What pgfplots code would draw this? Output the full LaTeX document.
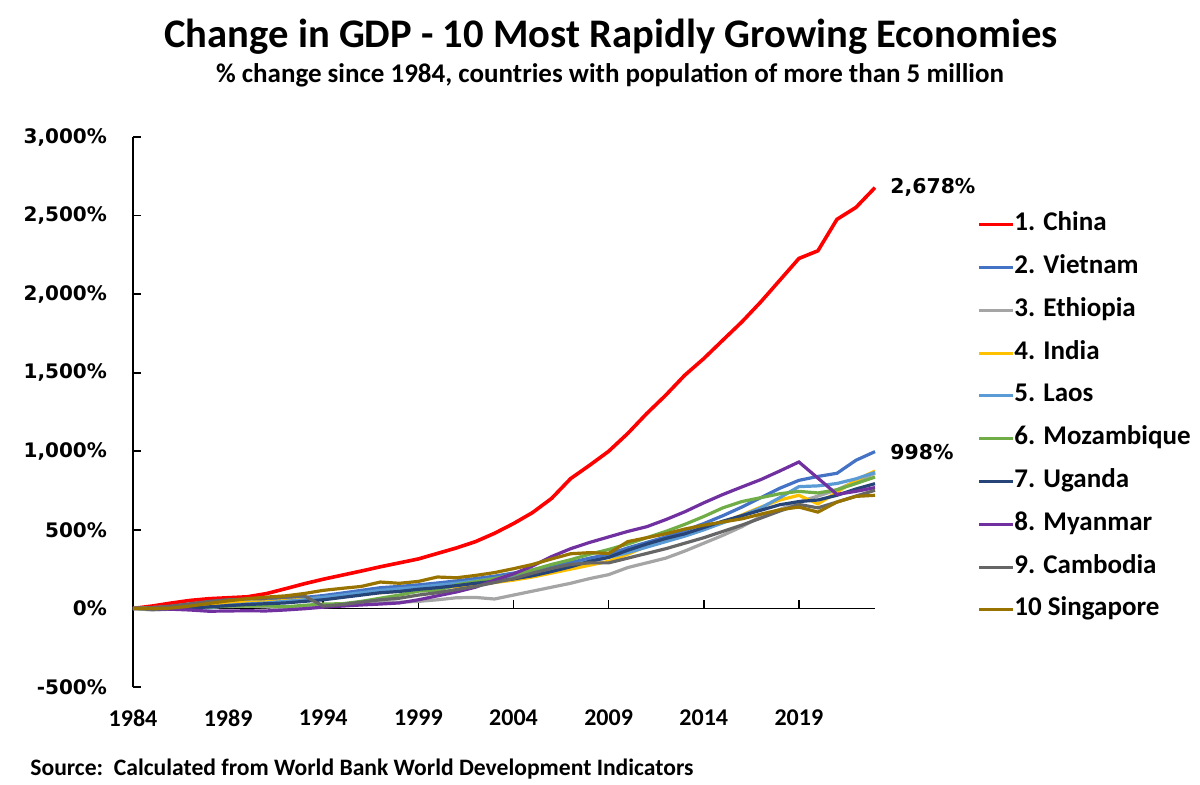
\documentclass[border=0pt]{standalone}
\usepackage{pgfplots}
\pgfplotsset{compat=1.18}
\usepackage{pgfplotstable}
\usepackage{fontspec}
\setmainfont{Carlito}
\newfontfamily\verdana{DejaVu Sans}

\definecolor{cChina}{HTML}{FF0000}
\definecolor{cVietnam}{HTML}{4472C4}
\definecolor{cEthiopia}{HTML}{A5A5A5}
\definecolor{cIndia}{HTML}{FFC000}
\definecolor{cLaos}{HTML}{5B9BD5}
\definecolor{cMozambique}{HTML}{70AD47}
\definecolor{cUganda}{HTML}{264478}
\definecolor{cMyanmar}{HTML}{7030A0}
\definecolor{cCambodia}{HTML}{666666}
\definecolor{cSingapore}{HTML}{997300}

% % change in real GDP since 1984
\pgfplotstableread{
year china vietnam ethiopia india laos mozambique uganda myanmar cambodia singapore
1984 0 0 0 0 0 0 0 0 0 0
1985 15 5 -10 5 3 -5 -2 -2 5 -1
1986 34 10 -5 10 8 -3 -3 -5 15 2
1987 51 15 10 15 5 0 2 -10 30 15
1988 62 22 12 25 3 8 10 -18 45 32
1989 68 30 12 32 20 15 18 -16 55 48
1990 74 38 15 40 28 15 25 -15 60 62
1991 94 46 10 42 35 18 30 -16 65 72
1992 125 58 2 50 45 10 35 -10 72 80
1993 157 70 15 58 55 20 45 -2 80 95
1994 186 82 18 68 70 28 55 8 15 115
1995 212 98 25 80 85 30 70 15 25 128
1996 238 115 38 92 100 45 85 22 40 140
1997 265 132 42 100 115 65 100 28 55 168
1998 290 140 40 110 125 85 108 35 65 160
1999 315 150 45 122 135 110 122 55 85 172
2000 350 162 55 130 148 115 132 80 100 200
2001 385 175 68 140 160 150 145 105 120 195
2002 425 190 70 148 175 170 160 135 140 210
2003 478 205 60 165 190 190 172 180 165 228
2004 540 225 85 180 210 215 188 220 190 253
2005 610 245 110 200 230 245 208 270 225 280
2006 700 268 135 225 255 280 235 330 255 315
2007 826 292 160 250 275 310 265 380 280 348
2008 911 320 190 275 300 345 300 420 290 355
2009 1000 345 215 300 325 375 325 455 290 350
2010 1113 385 260 345 355 410 370 490 320 425
2011 1240 420 290 395 390 450 410 520 350 450
2012 1357 455 320 430 425 490 445 565 380 475
2013 1484 495 365 465 460 535 475 615 415 505
2014 1590 540 415 505 500 585 515 672 450 530
2015 1707 590 465 545 545 640 555 725 490 550
2016 1823 645 520 595 590 680 590 773 530 570
2017 1951 705 585 645 640 705 625 820 575 600
2018 2089 765 630 690 705 730 660 875 620 628
2019 2227 815 677 720 775 745 680 932 662 645
2020 2276 840 715 665 780 735 690 829 640 613
2021 2476 860 755 740 795 755 720 726 677 677
2022 2552 943 810 815 825 795 760 745 715 713
2023 2678 998 860 875 865 836 794 769 752 720
}\gdp

\begin{document}
\begin{tikzpicture}
\path[use as bounding box] (0pt,0pt) rectangle (600pt,392pt);

\node[font=\bfseries\fontsize{20.3}{24}\selectfont] at (305.5pt,373.5pt)
  {Change in GDP - 10 Most Rapidly Growing Economies};
\node[font=\bfseries\fontsize{13.5}{16}\selectfont] at (305pt,354.5pt)
  {\% change since 1984, countries with population of more than 5 million};
\node[anchor=west, inner sep=0pt, font=\bfseries\fontsize{11.8}{14}\selectfont] at (15pt,7.5pt)
  {Source:\ \ Calculated from World Bank World Development Indicators};

\begin{axis}[
  at={(66.5pt,48.5pt)}, anchor=south west,
  scale only axis, width=371pt, height=275pt,
  xmin=1984, xmax=2023, ymin=-500, ymax=3000,
  clip=false,
  axis lines*=left,
  x axis line style={draw=none},
  y axis line style={line width=0.8pt, black},
  tick align=inside,
  major tick length=4pt,
  xtick={1984,1989,1994,1999,2004,2009,2014,2019},
  xticklabels={1984,1989,1994,1999,2004,2009,2014,2019},
  xtick style={draw=none},
  xticklabel style={font=\bfseries\fontsize{12}{14}\selectfont, anchor=north, yshift=-8pt},
  ytick={-500,0,500,1000,1500,2000,2500,3000},
  yticklabels={-500\%,0\%,500\%,{1,000\%},{1,500\%},{2,000\%},{2,500\%},{3,000\%}},
  ytick style={line width=0.8pt, black},
  yticklabel style={font=\verdana\bfseries\fontsize{10}{12}\selectfont, anchor=east, xshift=-9.5pt},
  no markers,
  legend cell align=left,
  legend image code/.code={\draw[#1, line width=1.5pt] (0pt,0pt) -- (17pt,0pt);},
  legend style={draw=none, fill=none, at={(1.1375,0.8631)}, anchor=north west,
    inner sep=0pt, row sep=9.4pt, column sep=0pt,
    font=\bfseries\fontsize{13.5}{16}\selectfont,
    nodes={inner sep=0pt, text height=9pt, text depth=3pt}},
]
\draw[line width=0.8pt] (axis cs:1984,0) -- (axis cs:2023,0);
\pgfplotsinvokeforeach{1989,1994,1999,2004,2009,2014,2019}{
  \draw[line width=0.8pt] (axis cs:#1,0) -- ++(0pt,4.3pt);
}
\addplot[cChina, line width=1.8pt] table[x=year, y=china] {\gdp};
\addlegendentry{1. China}
\addplot[cVietnam, line width=1.6pt] table[x=year, y=vietnam] {\gdp};
\addlegendentry{2. Vietnam}
\addplot[cEthiopia, line width=1.6pt] table[x=year, y=ethiopia] {\gdp};
\addlegendentry{3. Ethiopia}
\addplot[cIndia, line width=1.6pt] table[x=year, y=india] {\gdp};
\addlegendentry{4. India}
\addplot[cLaos, line width=1.6pt] table[x=year, y=laos] {\gdp};
\addlegendentry{5. Laos}
\addplot[cMozambique, line width=1.6pt] table[x=year, y=mozambique] {\gdp};
\addlegendentry{6. Mozambique}
\addplot[cUganda, line width=1.6pt] table[x=year, y=uganda] {\gdp};
\addlegendentry{7. Uganda}
\addplot[cMyanmar, line width=1.6pt] table[x=year, y=myanmar] {\gdp};
\addlegendentry{8. Myanmar}
\addplot[cCambodia, line width=1.6pt] table[x=year, y=cambodia] {\gdp};
\addlegendentry{9. Cambodia}
\addplot[cSingapore, line width=1.6pt] table[x=year, y=singapore] {\gdp};
\addlegendentry{10 Singapore}

\node[anchor=west, inner sep=0pt, xshift=7.5pt, font=\verdana\bfseries\fontsize{10.2}{12}\selectfont]
  at (axis cs:2023,2678) {2,678\%};
\node[anchor=west, inner sep=0pt, xshift=7.5pt, font=\verdana\bfseries\fontsize{10.2}{12}\selectfont]
  at (axis cs:2023,998) {998\%};
\end{axis}
\end{tikzpicture}
\end{document}
